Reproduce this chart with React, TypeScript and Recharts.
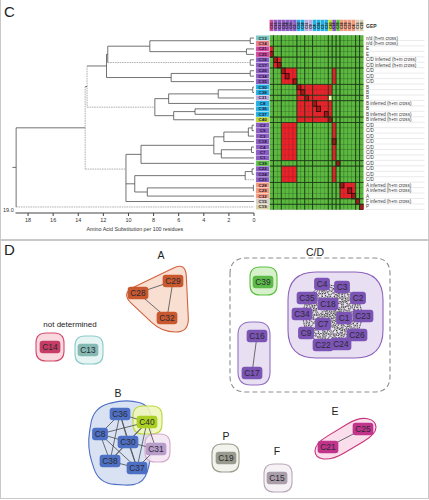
import React from 'react';
import { ScatterChart, Scatter, XAxis, YAxis, ReferenceLine, ReferenceArea } from 'recharts';

const FONT = '"Liberation Sans", Arial, sans-serif';

// ---------- panel C: rows of tree + heatmap, top to bottom
const rowIds = ['C13', 'C14', 'C21', 'C25', 'C16', 'C17', 'C26', 'C34', 'C35', 'C30', 'C38', 'C31', 'C8', 'C36', 'C37', 'C40',
  'C2', 'C9', 'C3', 'C18', 'C4', 'C7', 'C1', 'C39', 'C22', 'C24', 'C23', 'C28', 'C29', 'C32', 'C15', 'C19'];
const rowGroup = ['nd13', 'nd14', 'E', 'E', 'CD', 'CD', 'CD', 'CD', 'CD', 'B', 'B', 'B31', 'B', 'B', 'B', 'B40',
  'CD', 'CD', 'CD', 'CD', 'CD', 'CD', 'CD', 'CD39', 'CD', 'CD', 'CD', 'A', 'A', 'A', 'F', 'P'];
const gepLabels = ['n/d (h+m cross)', 'n/d (h+m cross)', 'E', 'E', 'C/D inferred (h+m cross)', 'C/D inferred (h+m cross)',
  'C/D', 'C/D', 'C/D', 'B', 'B', 'B', 'B inferred (h+m cross)', 'B', 'B inferred (h+m cross)', 'B inferred (h+m cross)',
  'C/D', 'C/D', 'C/D', 'C/D', 'C/D', 'C/D', 'C/D', 'C/D', 'C/D', 'C/D', 'C/D',
  'A inferred (h+m cross)', 'A inferred (h+m cross)', 'A', 'F inferred (h+m cross)', 'P'];

// tree: [node, height (aa subst. per 100 residues), children]
const treeNodes: [string, number, string[]][] = [
  ['n1', 0.3, ['C13', 'C14']],
  ['n2', 0.6, ['C21', 'C25']],
  ['n3', 8.3, ['n1', 'n2']],
  ['n4', 0.3, ['C16', 'C17']],
  ['n5', 11.65, ['n3', 'n4']],
  ['n6', 0.3, ['C26', 'C34']],
  ['n7', 6.6, ['n6', 'C35']],
  ['n8', 11.75, ['n5', 'n7']],
  ['n9', 0.1, ['C30', 'C38']],
  ['n10', 2.85, ['n9', 'C31']],
  ['n11', 6.8, ['n10', 'C8']],
  ['n12', 4.7, ['C36', 'C37']],
  ['n13', 6.4, ['n12', 'C40']],
  ['n14', 7.9, ['n11', 'n13']],
  ['n15', 13.3, ['n8', 'n14']],
  ['n16', 0.15, ['C2', 'C9']],
  ['n17', 0.45, ['n16', 'C3']],
  ['n18', 2.4, ['n17', 'C18']],
  ['n19', 0.2, ['C4', 'C7']],
  ['n20', 2.6, ['n19', 'C1']],
  ['n21', 3.2, ['n18', 'n20']],
  ['n22', 9.0, ['n21', 'C39']],
  ['n23', 0.15, ['C22', 'C24']],
  ['n24', 0.7, ['n23', 'C23']],
  ['n25', 0.05, ['C28', 'C29']],
  ['n26', 8.5, ['n25', 'C32']],
  ['n27', 9.5, ['n24', 'n26']],
  ['n28', 10.2, ['n22', 'n27', 'C15']],
  ['n29', 13.45, ['n15', 'n28']],
  ['root', 18.95, ['n29', 'C19']],
];
const dashedBranches = ['n4', 'n14', 'n28', 'C19', 'C23'];
const greyJoins = ['n15', 'n29'];
const distTicks = [0, 2, 4, 6, 8, 10, 12, 14, 16, 18];

// heatmap columns
const colIds = ['C25', 'C16', 'C17', 'C26', 'C34', 'C35', 'C2', 'C30', 'C38', 'C31', 'C9', 'C8', 'C36', 'C3', 'C37', 'C40',
  'C18', 'C39', 'C28', 'C29', 'C32', 'C4', 'C15', 'C19'];
const colGroup = ['E', 'CD', 'CD', 'CD', 'CD', 'CD', 'CD', 'B', 'B', 'B31', 'B31', 'B', 'B', 'B', 'B', 'B40',
  'CD', 'CD39', 'A', 'A', 'A', 'A', 'F', 'P'];
const redRanges: number[][][] = [
  [], [], [[0, 0]], [[0, 0]], [[1, 2]], [[1, 2]],
  [[3, 6], [16, 16]], [[3, 6], [16, 16]], [[3, 6], [16, 16]],
  [[7, 15]], [[7, 15]], [[7, 14]], [[7, 15]], [[7, 15]], [[7, 15]], [[7, 15]],
  [[3, 6], [16, 16]], [[3, 6], [16, 16]], [[3, 6], [16, 16]], [[3, 6], [16, 16]], [[3, 6], [16, 16]], [[3, 6], [16, 16]], [[3, 6], [16, 16]],
  [[17, 17]],
  [[3, 6], [16, 16]], [[3, 6], [16, 16]], [[3, 6], [16, 16]],
  [[18, 21]], [[18, 21]], [[18, 21]], [[22, 22]], [[23, 23]],
];
const diagCol: (number | null)[] = [null, null, null, 0, 1, 2, 3, 4, 6, 7, 8, 9, 11, 12, 14, 15,
  null, null, null, 16, null, null, null, 17, null, null, null, 18, 20, 21, 22, 23];
const paleCells = [[11, 15]];
const rowBreaks = [1, 3, 5, 8, 10, 11, 14, 15, 22, 23, 26, 29, 30];
const colBreaks = [0, 2, 6, 8, 10, 14, 15, 16, 17, 21, 22];

// ---------- panel D: network (layout units)
const netNodes: [string, string, number, number][] = [
  ['C29', 'A', 173, 41], ['C28', 'A', 138, 53], ['C32', 'A', 167, 78],
  ['C39', 'CD39', 263, 42],
  ['C4', 'CD', 322, 44], ['C3', 'CD', 342, 47], ['C35', 'CD', 307, 58], ['C18', 'CD', 328, 64], ['C2', 'CD', 358, 58],
  ['C34', 'CD', 302, 74], ['C1', 'CD', 344, 78], ['C23', 'CD', 363, 76], ['C7', 'CD', 323, 84], ['C9', 'CD', 306, 93],
  ['C26', 'CD', 357, 95], ['C22', 'CD', 323, 105], ['C24', 'CD', 341, 104],
  ['C16', 'CD', 257, 96], ['C17', 'CD', 252, 133],
  ['C14', 'nd14', 50, 107], ['C13', 'nd13', 88, 110],
  ['C36', 'B', 120, 174], ['C40', 'B40', 147, 182], ['C8', 'B', 100, 194], ['C30', 'B', 128, 202],
  ['C31', 'B31', 156, 209], ['C38', 'B', 110, 221], ['C37', 'B', 137, 228],
  ['C19', 'P', 226, 218], ['C15', 'F', 277, 238],
  ['C25', 'E', 363, 189], ['C21', 'E', 328, 207],
];
const netEdges: [string, string][] = [
  ['C28', 'C29'], ['C28', 'C32'], ['C29', 'C32'], ['C16', 'C17'], ['C21', 'C25'],
  ['C36', 'C8'], ['C36', 'C30'], ['C36', 'C38'], ['C36', 'C37'], ['C36', 'C40'], ['C8', 'C30'], ['C8', 'C38'],
  ['C8', 'C37'], ['C8', 'C40'], ['C30', 'C38'], ['C30', 'C37'], ['C30', 'C40'], ['C30', 'C31'], ['C38', 'C37'],
  ['C38', 'C40'], ['C37', 'C40'], ['C37', 'C31'], ['C40', 'C31'],
];
const cdClique = ['C4', 'C3', 'C35', 'C18', 'C2', 'C34', 'C1', 'C23', 'C7', 'C9', 'C26', 'C22', 'C24'];
const hulls: [string, number, number, number, number][] = [
  ['CDbox', 230, 390, 18, 152], ['A', 121, 189, 22, 92], ['CD', 288, 383, 32, 118], ['C1617', 238, 270, 82, 145],
  ['C39', 250, 277, 27, 55], ['C14', 36, 64, 93, 121], ['C13', 75, 103, 96, 124], ['B', 87, 152, 159, 246],
  ['C40', 133, 162, 166, 194], ['C31', 145, 170, 194, 222], ['E', 315, 376, 177, 220],
  ['C19', 212, 239, 204, 232], ['C15', 264, 292, 224, 252],
];
const groupLabels: [string, number, number][] = [
  ['A', 161, 15], ['C/D', 315, 12], ['not determined', 70, 84], ['B', 118, 153], ['E', 335, 171], ['P', 226, 196], ['F', 277, 211],
];

// ---------- styles
const HEAT: Record<string, string> = {
  nd13: '#7ec8c4', nd14: '#ec8088', E: '#cf4a9e', CD: '#8b5dc4', B: '#25b0e4', B31: '#bcaadf', B40: '#bcd834',
  CD39: '#5fc046', A: '#f29a7e', F: '#d9d1c4', P: '#d8d0a8',
};
const NET: Record<string, string> = {
  nd13: '#86b8b4', nd14: '#c63c64', E: '#c2338c', CD: '#7b54b6', B: '#4e70c4', B31: '#b89cc9', B40: '#aad024',
  CD39: '#5cba48', A: '#c9582f', F: '#a99ea9', P: '#9a9b8f',
};
const RECT = [[0, 0], [1, 0], [1, 1], [0, 1]];
const HULL: Record<string, { fill: string; stroke: string; r: number; poly: number[][]; dash?: string }> = {
  CDbox: { fill: 'none', stroke: '#8d8d8d', r: 16, poly: RECT, dash: '5 3' },
  A: { fill: '#f7dccd', stroke: '#d4623e', r: 14, poly: [[0, 0.45], [0.95, 0], [1, 1], [0.6, 1]] },
  CD: { fill: '#e7dbf1', stroke: '#8c62bc', r: 28, poly: RECT },
  C1617: { fill: '#e7dbf1', stroke: '#9270c4', r: 13, poly: RECT },
  C39: { fill: '#d3efc6', stroke: '#5cc040', r: 10, poly: RECT },
  C14: { fill: '#f8d4dc', stroke: '#d44a6a', r: 10, poly: RECT },
  C13: { fill: '#e4f3f3', stroke: '#8ccaca', r: 10, poly: RECT },
  B: { fill: '#d5dff2', stroke: '#4e70c4', r: 16, poly: [[0.1, 0.1], [0.6, 0], [1, 0.08], [0.97, 0.78], [0.82, 1], [0.18, 0.97], [0, 0.55]] },
  C40: { fill: '#eef6bc', stroke: '#bcd83c', r: 10, poly: RECT },
  C31: { fill: '#f4e7f2', stroke: '#d6aacc', r: 10, poly: RECT },
  E: { fill: '#f9dae9', stroke: '#c8347a', r: 14, poly: [[0, 0.62], [0.72, 0], [1, 0.08], [1, 0.4], [0.28, 1], [0, 0.95]] },
  C19: { fill: '#f2f2ec', stroke: '#9c9c8c', r: 10, poly: RECT },
  C15: { fill: '#f4eff4', stroke: '#b9a9b9', r: 10, poly: RECT },
};

const COL_W = 94 / 24;
const ROW_H = 174.4 / 32;

// rounded polygon through box-relative corner points
function roundedPoly(pts: number[][], r: number) {
  const n = pts.length;
  let d = '';
  for (let i = 0; i < n; i++) {
    const p = pts[i], a = pts[(i - 1 + n) % n], b = pts[(i + 1) % n];
    const la = Math.hypot(a[0] - p[0], a[1] - p[1]), lb = Math.hypot(b[0] - p[0], b[1] - p[1]);
    const ra = Math.min(r, la / 2), rb = Math.min(r, lb / 2);
    const s = [p[0] + (a[0] - p[0]) * ra / la, p[1] + (a[1] - p[1]) * ra / la];
    const e = [p[0] + (b[0] - p[0]) * rb / lb, p[1] + (b[1] - p[1]) * rb / lb];
    d += `${i === 0 ? 'M' : 'L'}${s[0]},${s[1]}Q${p[0]},${p[1]} ${e[0]},${e[1]}`;
  }
  return d + 'Z';
}

// ---------- derived: dendrogram segments
const posY: Record<string, number> = {};
const nodeH: Record<string, number> = {};
rowIds.forEach((id, i) => { posY[id] = i; nodeH[id] = 0; });
const treeSegs: { x1: number; x2: number; y1: number; y2: number; grey: boolean }[] = [];
treeNodes.forEach(([id, h, kids]) => {
  const ys = kids.map(k => posY[k]);
  posY[id] = (ys[0] + ys[1]) / 2;
  nodeH[id] = h;
  kids.forEach(k => treeSegs.push({ x1: h, x2: nodeH[k], y1: posY[k], y2: posY[k], grey: dashedBranches.includes(k) }));
  treeSegs.push({ x1: h, x2: h, y1: Math.min(...ys), y2: Math.max(...ys), grey: greyJoins.includes(id) });
});
const leafPts = rowIds.map((_, i) => ({ x: 0, y: i }));

// ---------- derived: heatmap cells
const cells: { col: number; row: number; kind: string }[] = [];
rowIds.forEach((_, r) => colIds.forEach((__, c) => {
  let kind = 'green';
  if (redRanges[r].some(([a, b]) => c >= a && c <= b)) kind = 'red';
  if (paleCells.some(([pr, pc]) => pr === r && pc === c)) kind = 'pale';
  cells.push({ col: c, row: r, kind });
}));
const diagCells = diagCol.flatMap((c, r) => (c == null ? [] : [{ col: c, row: r, kind: 'diag' }]));
const rowIdx = rowIds.map((_, i) => i);
const colIdx = colIds.map((_, i) => i);

// ---------- derived: network
const nodeMap: Record<string, { x: number; y: number }> = {};
const nodeData = netNodes.map(([id, g, x, y]) => { nodeMap[id] = { x, y }; return { id, g, x, y }; });
const cdEdges: [string, string][] = [];
cdClique.forEach((a, i) => cdClique.slice(i + 1).forEach(b => cdEdges.push([a, b])));
const labelData = groupLabels.map(([t, x, y]) => ({ t, x, y }));

const Empty = () => <g />;

const HeatCell = (p: any) => {
  const k = p.payload.kind;
  const fill = k === 'diag' ? '#a3191c' : k === 'red' ? '#e8212a' : k === 'pale' ? '#f3f2a8' : '#5db93e';
  const stroke = k === 'diag' ? '#2a0707' : k === 'red' ? '#b41a1c' : '#2f7a24';
  return <rect x={p.cx - COL_W / 2} y={p.cy - ROW_H / 2} width={COL_W} height={ROW_H}
    fill={fill} stroke={stroke} strokeWidth={k === 'diag' ? 0.8 : 0.45} />;
};

const RowTag = ({ x, y, payload }: any) => {
  const i = payload.value;
  return (
    <g>
      <rect x={x - 13.6} y={y - ROW_H / 2} width={13.4} height={ROW_H} fill={HEAT[rowGroup[i]]} stroke="#ffffff" strokeWidth={0.3} />
      <text x={x - 6.9} y={y} textAnchor="middle" dominantBaseline="central" fontSize={4.4} fontWeight="bold"
        fill="#1c1530" fontFamily={FONT}>{rowIds[i]}</text>
    </g>
  );
};

const GepTick = ({ x, y, payload }: any) => {
  const i = payload.value;
  return (
    <g>
      <line x1={x + 2} x2={x + 61} y1={y + ROW_H / 2 - 0.3} y2={y + ROW_H / 2 - 0.3} stroke="#d4d4d4" strokeWidth={0.5} />
      <text x={x + 2.4} y={y} dominantBaseline="central" fontSize={4.6} fill="#3a3a3a" fontFamily={FONT}>{gepLabels[i]}</text>
    </g>
  );
};

const ColHead = ({ x, y, payload }: any) => {
  const i = payload.value;
  return (
    <g>
      <rect x={x - COL_W / 2} y={y - 15.6} width={COL_W} height={11.4} fill={HEAT[colGroup[i]]} stroke="#ffffff" strokeWidth={0.2} />
      <text transform={`translate(${x + 1.3},${y - 6.2}) rotate(-90)`} fontSize={3.7} fontWeight="bold"
        fill="#1a1a1a" fontFamily={FONT}>{colIds[i]}</text>
    </g>
  );
};

const NodeBox = (p: any) => {
  const { cx, cy, payload } = p;
  const w = 6 + payload.id.length * 4.9;
  return (
    <g>
      <rect x={cx - w / 2} y={cy - 6.2} width={w} height={12.4} rx={3} fill={NET[payload.g]} />
      <text x={cx} y={cy + 0.3} textAnchor="middle" dominantBaseline="central" fontSize={8.4}
        fill="#2b2b33" fontFamily={FONT}>{payload.id}</text>
    </g>
  );
};

const GroupText = (p: any) => (
  <text x={p.cx} y={p.cy} textAnchor="middle" dominantBaseline="central"
    fontSize={p.payload.t.length > 4 ? 8 : 10.5} fill="#222" fontFamily={FONT}>{p.payload.t}</text>
);

const HullShape = (name: string) => (p: any) => {
  const s = HULL[name];
  const pts = s.poly.map(([u, v]) => [p.x + u * p.width, p.y + v * p.height]);
  return <path d={roundedPoly(pts, s.r)} fill={s.fill} stroke={s.stroke} strokeWidth={1.1}
    strokeDasharray={s.dash} fillOpacity={0.9} />;
};

const abs = (l: number, t: number): React.CSSProperties => ({ position: 'absolute', left: l, top: t });

export default function App() {
  return (
    <div style={{ position: 'relative', width: 429, height: 500, background: '#fff', fontFamily: FONT, overflow: 'hidden' }}>
      <style>{'body{margin:0}'}</style>
      <div style={{ ...abs(0, -1), width: 429, height: 241, border: '1px solid #c9c9c9', boxSizing: 'border-box' }} />
      <div style={{ ...abs(0, 240), width: 429, height: 259, border: '1px solid #c9c9c9', boxSizing: 'border-box' }} />
      <div style={{ ...abs(4, 3), fontSize: 15, color: '#222' }}>C</div>
      <div style={{ ...abs(4, 241), fontSize: 15, color: '#222' }}>D</div>
      <div style={{ ...abs(3, 207), fontSize: 5.5, color: '#333' }}>19.0</div>
      <div style={{ ...abs(366, 23), fontSize: 5, fontWeight: 'bold', color: '#333' }}>GEP</div>

      {/* dendrogram */}
      <div style={abs(0, 0)}>
        <ScatterChart width={429} height={240} margin={{ top: 35.3, right: 175, bottom: 0, left: 15.5 }}>
          <XAxis type="number" dataKey="x" domain={[0, 19]} reversed allowDataOverflow ticks={distTicks} interval={0}
            height={27} tickSize={3} tickMargin={2} stroke="#444"
            tick={{ fontSize: 5.5, fill: '#333', fontFamily: FONT }}
            label={{ value: 'Amino Acid Substitution per 100 residues', position: 'insideBottom', offset: 9, fontSize: 5.3, fill: '#333', fontFamily: FONT }} />
          <YAxis type="number" dataKey="y" hide domain={[-0.5, 32.106]} reversed allowDataOverflow />
          <Scatter data={leafPts} shape={Empty} isAnimationActive={false} />
          {treeSegs.map((s, i) => (
            <ReferenceLine key={i} segment={[{ x: s.x1, y: s.y1 }, { x: s.x2, y: s.y2 }]} ifOverflow="visible"
              stroke={s.grey ? '#a8a8a8' : '#4f4f4f'} strokeWidth={s.grey ? 0.9 : 0.8}
              strokeDasharray={s.grey ? '1.6 0.8' : undefined} />
          ))}
          <ReferenceLine segment={[{ x: nodeH.root, y: posY.root }, { x: nodeH.root + 0.3, y: posY.root }]}
            ifOverflow="visible" stroke="#4f4f4f" strokeWidth={0.8} />
        </ScatterChart>
      </div>

      {/* heatmap */}
      <div style={abs(0, 0)}>
        <ScatterChart width={429} height={240} margin={{ top: 20, right: 3.5, bottom: 30.3, left: 256 }}>
          <XAxis type="number" dataKey="col" orientation="top" domain={[-0.5, 23.5]} allowDataOverflow ticks={colIdx}
            interval={0} height={15.3} tickSize={0} tickMargin={0} axisLine={false} tick={<ColHead />} />
          <YAxis yAxisId="l" type="number" dataKey="row" domain={[-0.5, 31.5]} reversed allowDataOverflow ticks={rowIdx}
            interval={0} width={13.5} tickSize={0} tickMargin={0} axisLine={false} tick={<RowTag />} />
          <YAxis yAxisId="r" orientation="right" type="number" dataKey="row" domain={[-0.5, 31.5]} reversed allowDataOverflow
            ticks={rowIdx} interval={0} width={62} tickSize={0} tickMargin={0} axisLine={false} tick={<GepTick />} />
          <Scatter yAxisId="r" data={cells.slice(0, 1)} shape={Empty} isAnimationActive={false} />
          <Scatter yAxisId="l" data={cells} shape={HeatCell} isAnimationActive={false} />
          <Scatter yAxisId="l" data={diagCells} shape={HeatCell} isAnimationActive={false} />
          {rowBreaks.map(b => (
            <ReferenceLine key={'h' + b} yAxisId="l" y={b + 0.5} stroke="#1d3a19" strokeWidth={0.9} zIndex={700} />
          ))}
          {colBreaks.map(b => (
            <ReferenceLine key={'v' + b} yAxisId="l" x={b + 0.5} stroke="#1d3a19" strokeWidth={0.9} zIndex={700} />
          ))}
        </ScatterChart>
      </div>

      {/* network */}
      <div style={abs(0, 240)}>
        <ScatterChart width={429} height={260} margin={{ top: 0, right: 0, bottom: 0, left: 0 }}>
          <XAxis type="number" dataKey="x" hide domain={[0, 429]} allowDataOverflow />
          <YAxis type="number" dataKey="y" hide domain={[0, 260]} reversed allowDataOverflow />
          {hulls.map(([name, x1, x2, y1, y2]) => (
            <ReferenceArea key={name} x1={x1} x2={x2} y1={y1} y2={y2} ifOverflow="visible" shape={HullShape(name)} zIndex={50} />
          ))}
          {netEdges.map(([a, b]) => (
            <ReferenceLine key={a + b} segment={[nodeMap[a], nodeMap[b]]} ifOverflow="visible"
              stroke="#4a4a4a" strokeWidth={0.8} zIndex={300} />
          ))}
          {cdEdges.map(([a, b]) => (
            <ReferenceLine key={a + b} segment={[nodeMap[a], nodeMap[b]]} ifOverflow="visible"
              stroke="#2e2e2e" strokeWidth={0.9} zIndex={300} />
          ))}
          {cdEdges.map(([a, b]) => (
            <ReferenceLine key={'w' + a + b} segment={[nodeMap[a], nodeMap[b]]} ifOverflow="visible"
              stroke="#ffffff" strokeWidth={0.7} strokeDasharray="1.2 1.4" zIndex={310} />
          ))}
          <Scatter data={nodeData} shape={NodeBox} isAnimationActive={false} />
          <Scatter data={labelData} shape={GroupText} isAnimationActive={false} />
        </ScatterChart>
      </div>
    </div>
  );
}
